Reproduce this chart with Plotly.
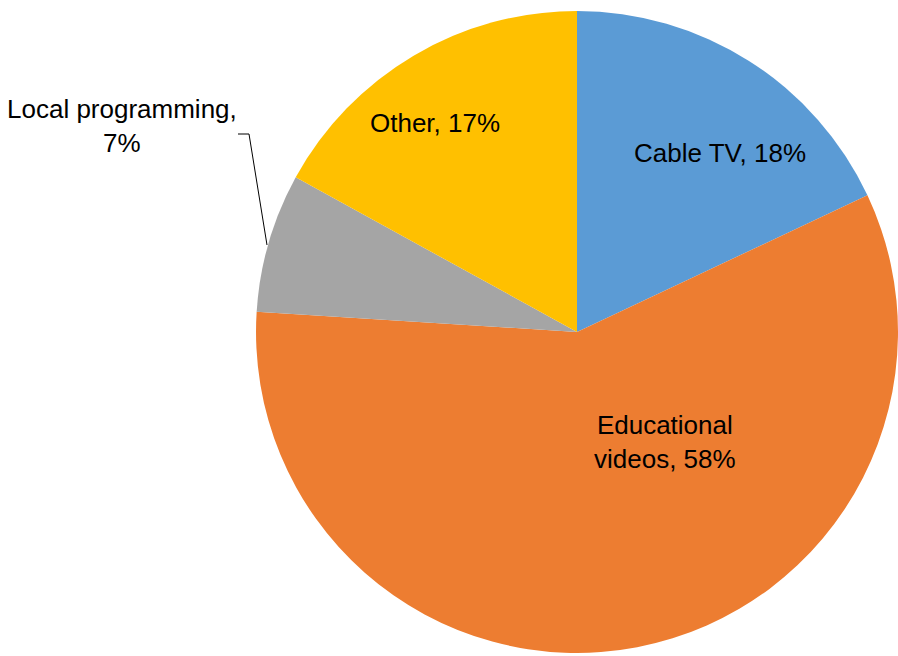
import plotly.graph_objects as go

W, H = 898, 656

categories = ["Cable TV", "Educational videos", "Local programming", "Other"]
shares = [18, 58, 7, 17]
colors = ["#5B9BD5", "#ED7D31", "#A5A5A5", "#FFC000"]

# label anchor points (pixels) and how each label is split into lines
label_pos = {
    "Cable TV": (720, 153),
    "Educational videos": (665, 442),
    "Local programming": (122, 126),
    "Other": (435, 123),
}
label_text = {
    "Cable TV": "{c}, {v}%",
    "Educational videos": "Educational<br>videos, {v}%",
    "Local programming": "Local programming,<br>{v}%",
    "Other": "{c}, {v}%",
}


def px(x, y):
    return x / W, 1 - y / H


fig = go.Figure(
    go.Pie(
        labels=categories,
        values=shares,
        marker=dict(colors=colors, line=dict(width=0)),
        sort=False,
        direction="clockwise",
        rotation=0,
        textinfo="none",
        hoverinfo="label+percent",
        domain=dict(x=[0.2851, 1.0], y=[0.003, 0.985]),
        showlegend=False,
    )
)

annotations = []
for c, v in zip(categories, shares):
    x, y = px(*label_pos[c])
    annotations.append(
        dict(
            x=x, y=y, xref="paper", yref="paper",
            text=label_text[c].format(c=c, v=v),
            showarrow=False, xanchor="center", yanchor="middle",
            align="center",
            font=dict(family="Liberation Sans, Arial, sans-serif", size=26, color="#000000"),
        )
    )

# leader line for the outside label
pts = [(238, 134), (249, 134), (267, 245)]
shapes = []
for (x0, y0), (x1, y1) in zip(pts[:-1], pts[1:]):
    a0, b0 = px(x0, y0)
    a1, b1 = px(x1, y1)
    shapes.append(dict(type="line", xref="paper", yref="paper",
                       x0=a0, y0=b0, x1=a1, y1=b1,
                       line=dict(color="#000000", width=1)))

fig.update_layout(
    width=W, height=H,
    margin=dict(l=0, r=0, t=0, b=0),
    paper_bgcolor="white",
    plot_bgcolor="white",
    annotations=annotations,
    shapes=shapes,
)

fig.write_html("out.html")
